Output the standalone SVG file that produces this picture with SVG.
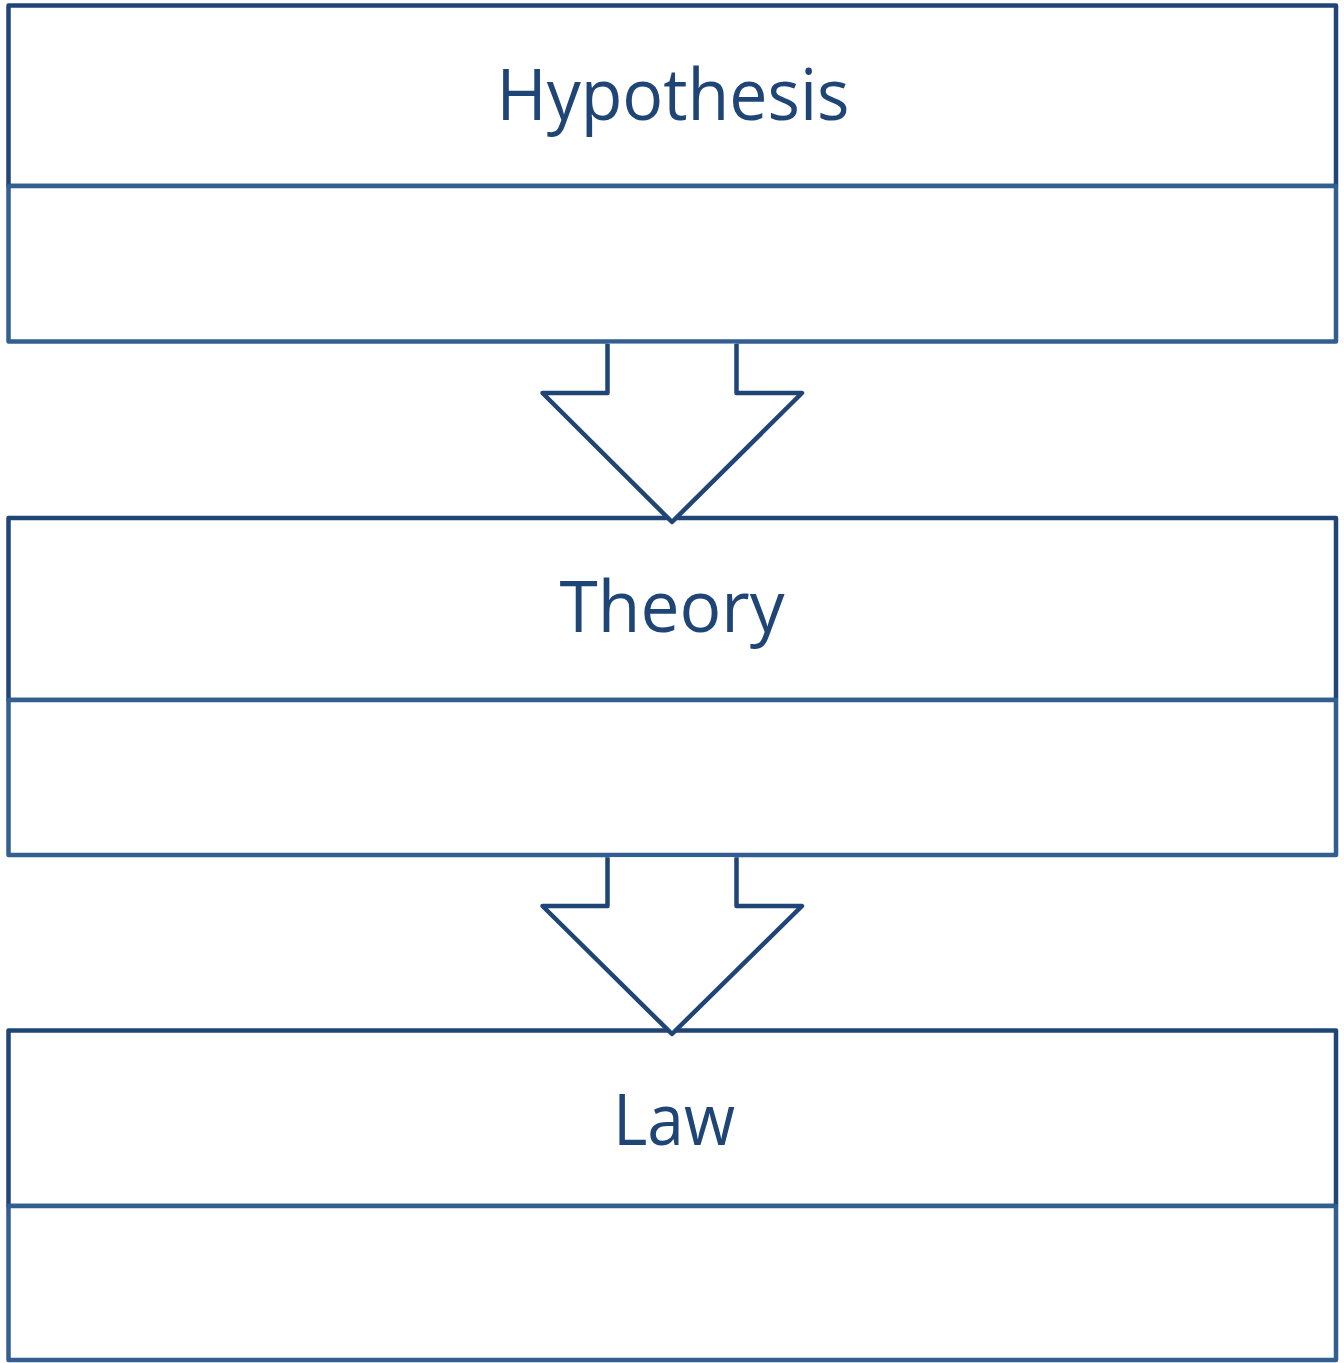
<svg xmlns="http://www.w3.org/2000/svg" width="1344" height="1363" viewBox="0 0 1344 1363">
<style>
.hd{fill:#ffffff;stroke:#1F4577;stroke-width:4.5;stroke-linejoin:round}
.bd{fill:#ffffff;stroke:#335E90;stroke-width:4.5;stroke-linejoin:round}
.ar{fill:#ffffff;stroke:#1F4577;stroke-width:4.5;stroke-linejoin:round}
.t{font-family:"Open Sans","Noto Sans",sans-serif;font-size:72px;fill:#1F4577;text-anchor:middle}
</style>
<rect width="1344" height="1363" fill="#ffffff"/>
<g id="hypothesis">
<rect class="hd" x="8.5" y="5.5" width="1327.5" height="180.5"/>
<rect class="bd" x="8.5" y="186" width="1327.5" height="155.5"/>
<text class="t" x="673" y="120" textLength="353" lengthAdjust="spacingAndGlyphs">Hypothesis</text>
</g>
<g id="theory">
<rect class="hd" x="8.5" y="518" width="1327.5" height="182"/>
<rect class="bd" x="8.5" y="700" width="1327.5" height="155"/>
<text class="t" x="672" y="632" textLength="225" lengthAdjust="spacingAndGlyphs">Theory</text>
</g>
<g id="law">
<rect class="hd" x="8.5" y="1030.5" width="1327.5" height="175.5"/>
<rect class="bd" x="8.5" y="1206" width="1327.5" height="154"/>
<text class="t" x="674" y="1145" textLength="122" lengthAdjust="spacingAndGlyphs">Law</text>
</g>
<g id="connectors">
<path class="ar" d="M607.5 343.8 V393 H542.5 L672 522 L802 393 H736.5 V343.8"/>
<path class="ar" d="M607.5 857.3 V906 H542.5 L672 1034 L802 906 H736.5 V857.3"/>
</g>
</svg>
